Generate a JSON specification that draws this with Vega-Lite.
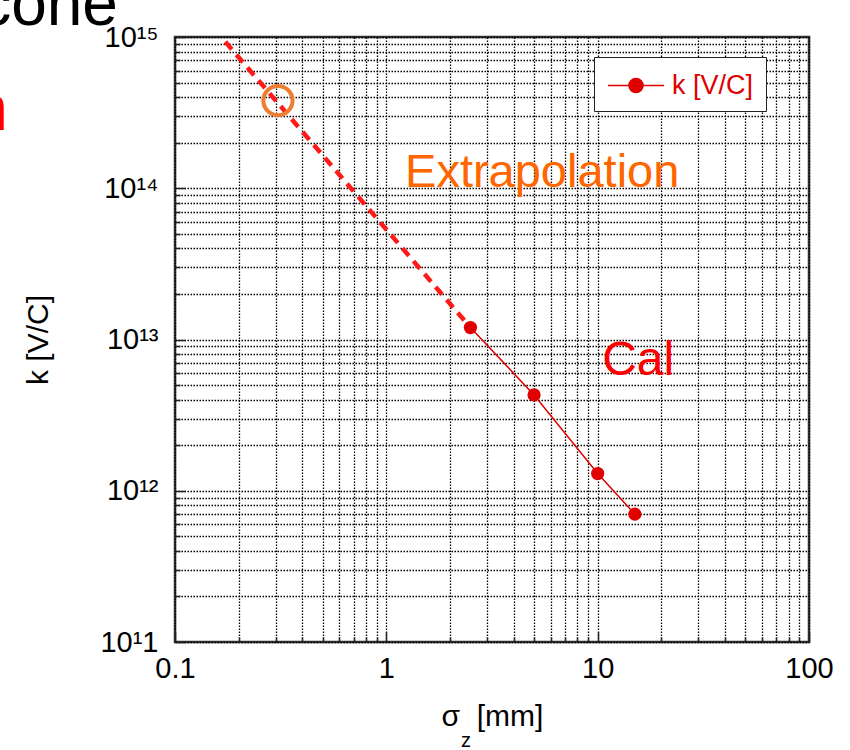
{
  "$schema": "https://vega.github.io/schema/vega-lite/v6.json",
  "width": 634,
  "height": 605,
  "autosize": {"type": "none"},
  "padding": {"left": 175, "top": 37, "right": 41, "bottom": 108},
  "background": "white",
  "config": {
    "view": {"stroke": "#333333", "strokeWidth": 2.5},
    "font": "Liberation Sans"
  },
  "datasets": {
    "cal": [
      {"x": 2.5, "y": 1.2e13, "s": "k [V/C]"},
      {"x": 5, "y": 4.3e12, "s": "k [V/C]"},
      {"x": 10, "y": 1.3e12, "s": "k [V/C]"},
      {"x": 15, "y": 7.0e11, "s": "k [V/C]"}
    ],
    "ext": [
      {"x": 0.173, "y": 9.3e14},
      {"x": 2.5, "y": 1.2e13}
    ],
    "mark": [{"x": 0.307, "y": 3.8e14}],
    "extra": [{"x": 1.226, "y": 1.02e14, "t": "Extrapolation"}],
    "cal_t": [{"x": 10.5, "y": 5.8e12, "t": "Cal"}],
    "cone": [{"x": 0.0537, "y": 1.2e15, "t": "cone"}],
    "n": [{"x": 0.0162, "y": 2.43e14, "t": "n"}],
    "sub": [{"x": 2.38, "y": 2.2e10, "t": "z"}]
  },
  "encoding": {
    "x": {
      "field": "x",
      "type": "quantitative",
      "scale": {"type": "log", "domain": [0.1, 100]},
      "axis": {
        "values": [0.1, 0.2, 0.3, 0.4, 0.5, 0.6, 0.7, 0.8, 0.9, 1, 2, 3, 4, 5, 6, 7, 8, 9, 10, 20, 30, 40, 50, 60, 70, 80, 90, 100],
        "title": "σ\u00a0\u00a0[mm]",
        "grid": true,
        "gridDash": [1.5, 1.5],
        "gridColor": "#000000",
        "gridWidth": 1.3,
        "gridOpacity": 1,
        "domain": false,
        "tickColor": "#222222",
        "tickWidth": 1.5,
        "tickSize": {"condition": {"test": "abs(log(datum.value)/LN10 - round(log(datum.value)/LN10)) < 0.001", "value": -10}, "value": -5},
        "labelExpr": "abs(log(datum.value)/LN10 - round(log(datum.value)/LN10)) < 0.001 ? toString(datum.value) : ''",
        "labelFont": "Liberation Sans",
        "labelFontSize": 29,
        "labelColor": "black",
        "labelPadding": 22,
        "labelOverlap": false,
        "labelFlush": false,
        "labelBound": false,
        "titleFont": "Liberation Sans",
        "titleFontSize": 30,
        "titleFontWeight": "normal",
        "titleColor": "black",
        "titlePadding": 13
      }
    },
    "y": {
      "field": "y",
      "type": "quantitative",
      "scale": {"type": "log", "domain": [1e11, 1e15]},
      "axis": {
        "values": [1e11, 2e11, 3e11, 4e11, 5e11, 6e11, 7e11, 8e11, 9e11, 1e12, 2e12, 3e12, 4e12, 5e12, 6e12, 7e12, 8e12, 9e12, 1e13, 2e13, 3e13, 4e13, 5e13, 6e13, 7e13, 8e13, 9e13, 1e14, 2e14, 3e14, 4e14, 5e14, 6e14, 7e14, 8e14, 9e14, 1e15],
        "title": "k [V/C]",
        "grid": true,
        "gridDash": [1.5, 1.5],
        "gridColor": "#000000",
        "gridWidth": 1.3,
        "gridOpacity": 1,
        "domain": false,
        "tickColor": "#222222",
        "tickWidth": 1.5,
        "tickSize": {"condition": {"test": "abs(log(datum.value)/LN10 - round(log(datum.value)/LN10)) < 0.001", "value": -10}, "value": -5},
        "labelExpr": "abs(log(datum.value)/LN10 - round(log(datum.value)/LN10)) < 0.001 ? '10' + replace(replace(replace(replace(replace(replace(toString(round(log(datum.value)/LN10)),'1','¹'),'2','²'),'3','³'),'4','⁴'),'5','⁵'),'0','⁰') : ''",
        "labelFont": "Liberation Sans",
        "labelFontSize": 29,
        "labelColor": "black",
        "labelPadding": 27,
        "labelOverlap": false,
        "labelFlush": false,
        "labelBound": false,
        "titleFont": "Liberation Sans",
        "titleFontSize": 30,
        "titleFontWeight": "normal",
        "titleColor": "black",
        "titlePadding": 46
      }
    }
  },
  "layer": [
    {
      "data": {"name": "ext"},
      "mark": {"type": "line", "color": "#ff1a1a", "strokeWidth": 4.5, "strokeDash": [10, 7], "strokeCap": "butt"},
      "encoding": {}
    },
    {
      "data": {"name": "cal"},
      "mark": {"type": "line", "strokeWidth": 1.5},
      "encoding": {
        "color": {
          "field": "s",
          "type": "nominal",
          "scale": {"domain": ["k [V/C]"], "range": ["#e00000"]},
          "legend": {
            "orient": "none",
            "legendX": 419,
            "legendY": 20,
            "title": null,
            "strokeColor": "#222222",
            "fillColor": "white",
            "padding": 12.5,
            "symbolType": "M-1.87,0H1.87M0.47,0A0.47,0.47,0,1,1,-0.47,0A0.47,0.47,0,1,1,0.47,0Z",
            "symbolSize": 900,
            "symbolOffset": 13.5,
            "symbolStrokeWidth": 1.5,
            "symbolFillColor": "#e00000",
            "symbolStrokeColor": "#e00000",
            "symbolOpacity": 1,
            "labelFont": "Liberation Sans",
            "labelFontSize": 27,
            "labelColor": "#e00000",
            "labelOffset": 20
          }
        }
      }
    },
    {
      "data": {"name": "cal"},
      "mark": {"type": "point", "filled": true, "size": 175, "opacity": 1},
      "encoding": {
        "color": {"field": "s", "type": "nominal"}
      }
    },
    {
      "data": {"name": "mark"},
      "mark": {"type": "point", "shape": "circle", "filled": false, "size": 855, "stroke": "#ED7D31", "strokeWidth": 4, "opacity": 1}
    },
    {
      "data": {"name": "extra"},
      "mark": {"type": "text", "align": "left", "baseline": "alphabetic", "font": "Liberation Sans", "fontSize": 47, "color": "#ff6600"},
      "encoding": {"text": {"field": "t"}}
    },
    {
      "data": {"name": "cal_t"},
      "mark": {"type": "text", "align": "left", "baseline": "alphabetic", "font": "Liberation Sans", "fontSize": 48, "color": "#ff0000"},
      "encoding": {"text": {"field": "t"}}
    },
    {
      "data": {"name": "cone"},
      "mark": {"type": "text", "align": "right", "baseline": "alphabetic", "font": "Liberation Sans", "fontSize": 64, "color": "black"},
      "encoding": {"text": {"field": "t"}}
    },
    {
      "data": {"name": "n"},
      "mark": {"type": "text", "align": "right", "baseline": "alphabetic", "font": "Liberation Sans", "fontSize": 64, "color": "#ff0000"},
      "encoding": {"text": {"field": "t"}}
    },
    {
      "data": {"name": "sub"},
      "mark": {"type": "text", "align": "center", "baseline": "middle", "font": "Liberation Sans", "fontSize": 20, "color": "black"},
      "encoding": {"text": {"field": "t"}}
    }
  ]
}
